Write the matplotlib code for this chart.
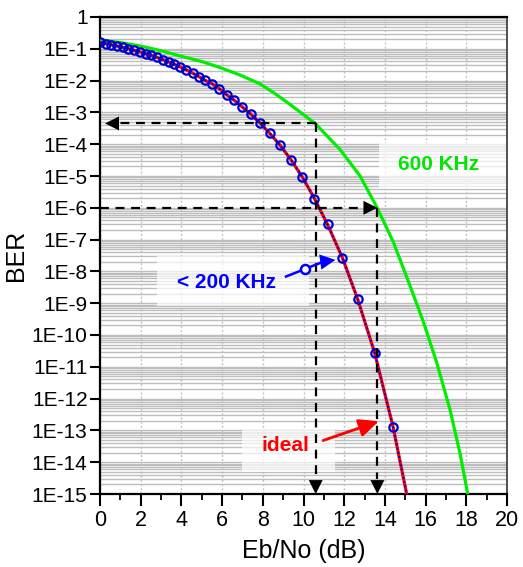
import matplotlib
matplotlib.use("Agg")
import matplotlib.pyplot as plt
from matplotlib.ticker import LogLocator, FixedLocator, MultipleLocator, NullFormatter
from matplotlib.patches import Rectangle

plt.rcParams['font.family'] = ['Liberation Sans', 'DejaVu Sans']

# ---- data ----
ideal_x = [0.00, 0.28, 0.56, 0.84, 1.12, 1.40, 1.68, 1.96, 2.24, 2.52, 2.80, 3.08, 3.37,
           3.66, 3.95, 4.25, 4.55, 4.86, 5.16, 5.49, 5.85, 6.22, 6.60, 6.98, 7.42, 7.88,
           8.34, 8.85, 9.39, 9.95, 10.54, 11.18, 11.91, 12.66, 13.50, 14.40, 15.07]
ideal_ber = [1.585e-1, 1.462e-1, 1.343e-1, 1.227e-1, 1.114e-1, 1.005e-1, 8.99e-2, 8.00e-2,
             7.05e-2, 6.17e-2, 5.35e-2, 4.59e-2, 3.88e-2, 3.24e-2, 2.67e-2, 2.16e-2, 1.72e-2,
             1.33e-2, 1.02e-2, 8.1e-3, 5.6e-3, 3.6e-3, 2.4e-3, 1.5e-3, 8.7e-4, 4.5e-4, 2.2e-4,
             9.3e-5, 3.2e-5, 9.1e-6, 1.95e-6, 3.0e-7, 2.7e-8, 1.35e-9, 2.7e-11, 1.3e-13, 1.0e-15]

bw200_x = list(ideal_x)
bw200_ber = list(ideal_ber)

bw600_x = [0.00, 1.00, 1.97, 3.00, 3.93, 5.00, 5.90, 6.90, 7.86, 8.60, 9.34, 10.57, 11.79,
           12.78, 13.62, 14.41, 15.23, 15.89, 16.54, 17.20, 17.69, 18.07]
bw600_ber = [1.93e-1, 1.58e-1, 1.23e-1, 8.7e-2, 5.96e-2, 3.98e-2, 2.57e-2, 1.48e-2, 7.9e-3,
             3.9e-3, 1.78e-3, 4.5e-4, 6.9e-5, 1.0e-5, 1.0e-6, 8.5e-8, 3.6e-9, 2.6e-10,
             1.4e-11, 4.5e-13, 1.9e-14, 1.0e-15]

x_ticks = [0, 2, 4, 6, 8, 10, 12, 14, 16, 18, 20]
y_ticks = [10.0 ** (-k) for k in range(0, 16)]
y_tick_labels = ['1'] + ['1E-%d' % k for k in range(1, 16)]

# reference markers on the chart
ref1_x, ref1_ber = 10.6, 4.5e-4
ref2_x, ref2_ber = 13.63, 1.0e-6
ber_min = 1.0e-15

fig = plt.figure(figsize=(5.23, 5.67), dpi=100)
ax = fig.add_axes([100 / 523, 1 - 494 / 567, 407 / 523, 477 / 567])
ax.set_yscale('log')
ax.set_xlim(0, 20)
ax.set_ylim(1e-15, 1)

# grid
ax.yaxis.set_major_locator(FixedLocator(y_ticks))
ax.yaxis.set_minor_locator(LogLocator(base=10, subs=[2, 3, 4, 5, 6, 7, 8, 9], numticks=200))
ax.yaxis.set_minor_formatter(NullFormatter())
ax.set_yticklabels(y_tick_labels)
ax.xaxis.set_major_locator(FixedLocator(x_ticks))
ax.xaxis.set_minor_locator(MultipleLocator(1))
ax.set_axisbelow(True)
ax.yaxis.grid(True, which='both', color='#bdbdbd', lw=1.0, ls='-')
ax.xaxis.grid(True, which='major', color='#c4c4c4', lw=1.0, ls=(0, (1.5, 1.5)))

# label boxes (semi-transparent white)
box_kw = dict(facecolor='white', edgecolor='none', alpha=0.7, zorder=1.5)
ax.add_patch(Rectangle((13.71, 3.8e-6), 20 - 13.71, 1.07e-4 - 3.8e-6, **box_kw))
ax.add_patch(Rectangle((2.80, 8.3e-10), 10.27 - 2.80, 3.16e-8 - 8.3e-10, **box_kw))
ax.add_patch(Rectangle((6.98, 4.9e-15), 11.55 - 6.98, 1.05e-13 - 4.9e-15, **box_kw))

# curves
ax.plot(bw600_x, bw600_ber, color='#00ee00', lw=2.3, zorder=3)
ax.plot(ideal_x, ideal_ber, color='#ff0000', lw=2.3, zorder=3)
ax.plot(bw200_x, bw200_ber, color='#0000cc', lw=1.4, ls=(0, (1, 1.2)), zorder=4)
ax.plot(bw200_x[:-1], bw200_ber[:-1], ls='none', marker='o', ms=6, mfc='none',
        mec='#0000cc', mew=1.6, zorder=5)

# dashed reference lines
dash = dict(color='black', lw=1.6, ls=(0, (4, 3)), zorder=6)
ax.plot([ref1_x, 0.6], [ref1_ber, ref1_ber], **dash)
ax.plot([ref1_x, ref1_x], [ref1_ber, 3e-15], **dash)
ax.plot([0, ref2_x - 0.5], [ref2_ber, ref2_ber], **dash)
ax.plot([ref2_x, ref2_x], [ref2_ber, 3e-15], **dash)

def head(xy, dx, dy, color='black', hl=1.0, hw=0.5, ms=10):
    ax.annotate('', xy=xy, xytext=(dx, dy), textcoords='offset points',
                arrowprops=dict(arrowstyle='-|>,head_length=%g,head_width=%g' % (hl, hw),
                                color=color, lw=0.01, shrinkA=0, shrinkB=0,
                                mutation_scale=ms), zorder=7, annotation_clip=False)

head((0.25, ref1_ber), 12, 0)
head((ref2_x, ref2_ber), -12, 0)
head((ref1_x, ber_min), 0, 12)
head((ref2_x, ber_min), 0, 12)

# blue annotation
ax.plot([9.14, 11.0], [6.9e-9, 2.05e-8], color='#0000ff', lw=1.8, zorder=7)
ax.plot([10.07], [1.15e-8], ls='none', marker='o', ms=6.5, mfc='white', mec='#0000ff',
        mew=1.8, zorder=8)
ax.annotate('', xy=(11.57, 2.3e-8), xytext=(10.9, 2.0e-8),
            arrowprops=dict(arrowstyle='-|>,head_length=1.0,head_width=0.5', color='#0000ff',
                            lw=0.01, shrinkA=0, shrinkB=0, mutation_scale=11), zorder=8)

# red annotation
ax.annotate('', xy=(13.71, 1.95e-13), xytext=(10.96, 4.8e-14),
            arrowprops=dict(arrowstyle='-|>,head_length=1.0,head_width=0.45', color='#ff0000',
                            lw=2.0, shrinkA=0, shrinkB=0, mutation_scale=12), zorder=8)

# texts
ax.text(14.66, 1.53e-5, '600 KHz', color='#00e600', fontsize=15, fontweight='bold',
        ha='left', va='baseline', zorder=9)
ax.text(3.78, 3.1e-9, '< 200 KHz', color='#0000ff', fontsize=15, fontweight='bold',
        ha='left', va='baseline', zorder=9)
ax.text(10.27, 2.3e-14, 'ideal', color='#ff0000', fontsize=15, fontweight='bold',
        ha='right', va='baseline', zorder=9)

# axes styling
for s in ['left', 'bottom', 'top']:
    ax.spines[s].set_linewidth(1.6)
    ax.spines[s].set_color('black')
ax.spines['right'].set_linewidth(1.4)
ax.spines['right'].set_color('#505050')
ax.tick_params(axis='y', which='major', direction='out', length=7, width=1.5,
               labelsize=15, pad=2)
ax.tick_params(axis='y', which='minor', length=0)
ax.tick_params(axis='x', which='major', direction='out', length=8.5, width=1.5,
               labelsize=15.5, pad=3)
ax.tick_params(axis='x', which='minor', direction='out', length=4.3, width=1.3)

ax.set_xlabel('Eb/No (dB)', fontsize=18)
ax.set_ylabel('BER', fontsize=18)
ax.xaxis.set_label_coords(0.5, -0.095)
ax.yaxis.set_label_coords(-0.178, 0.5)

fig.savefig('out.png', dpi=100)
